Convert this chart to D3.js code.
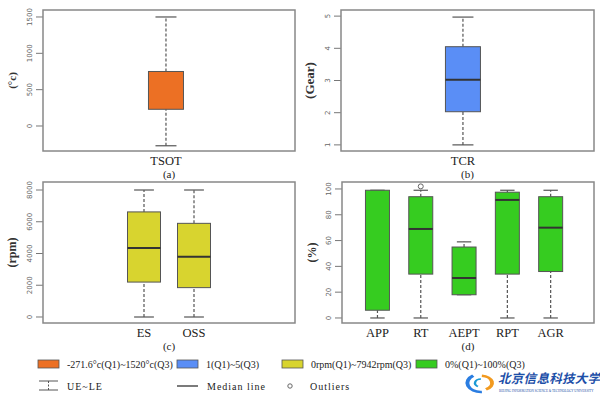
<!DOCTYPE html>
<html>
<head>
<meta charset="utf-8">
<script src="https://cdn.jsdelivr.net/npm/d3@7"></script>
<style>
  body { margin: 0; background: #fff; }
  svg { display: block; }
</style>
</head>
<body>
<svg id="vis" width="600" height="397"></svg>
<script>
// box stats: [lower whisker, Q1, median, Q3, upper whisker]
// median null where no median line shows in the figure
var catsA = ["TSOT"];
var statsA = [[-272, 230, null, 750, 1500]];
var ticksA = [0, 500, 1000, 1500];

var catsB = ["TCR"];
var statsB = [[1, 2.03, 3.02, 4.05, 4.97]];
var ticksB = [1, 2, 3, 4, 5];

var catsC = ["ES", "OSS"];
var statsC = [[0, 2200, 4350, 6620, 8000], [0, 1850, 3800, 5900, 8000]];
var ticksC = [0, 2000, 4000, 6000, 8000];

var catsD = ["APP", "RT", "AEPT", "RPT", "AGR"];
var statsD = [[0, 6, null, 99, 99], [0, 34, 69, 94, 99], [18, 18, 31, 55, 59],
              [0, 34, 91.5, 97.5, 99], [0, 36, 70, 94, 99]];
var outliersD = [[], [102], [], [], []];
var ticksD = [0, 20, 40, 60, 80, 100];

var legendLabels = ["-271.6°c(Q1)~1520°c(Q3)", "1(Q1)~5(Q3)", "0rpm(Q1)~7942rpm(Q3)", "0%(Q1)~100%(Q3)"];
var legendColors = ["#ec7024", "#5a8ef6", "#d8d42f", "#36cc20"];

var svg = d3.select("#vis");
var serif = "'Liberation Serif', 'DejaVu Serif', serif";

function panel(o) {
  var g = svg.append("g");
  var y = d3.scaleLinear().domain(o.ydom).range([o.y1, o.y0]);
  var x = d3.scalePoint().domain(o.cats).range([o.x0, o.x1]).padding(o.pad).align(o.align);

  // ticks, R style with rotated labels
  o.ticks.forEach(function(t) {
    g.append("line")
      .attr("x1", o.x0 - 7).attr("x2", o.x0)
      .attr("y1", y(t)).attr("y2", y(t))
      .attr("stroke", "#777").attr("stroke-width", 1);
    g.append("text")
      .attr("transform", "translate(" + (o.x0 - 11) + "," + y(t) + ") rotate(-90)")
      .attr("text-anchor", "middle")
      .attr("font-family", "'DejaVu Sans', sans-serif")
      .attr("font-size", 7)
      .attr("fill", "#666")
      .text(t);
  });

  o.cats.forEach(function(c, i) {
    var s = o.stats[i], cx = x(c), w = o.bw;
    // whiskers
    [[s[0], s[1]], [s[3], s[4]]].forEach(function(p) {
      if (p[0] == p[1]) return;
      g.append("line")
        .attr("x1", cx).attr("x2", cx)
        .attr("y1", y(p[0])).attr("y2", y(p[1]))
        .attr("stroke", "#555").attr("stroke-width", 1.2)
        .attr("stroke-dasharray", "3,2");
    });
    [s[0], s[4]].forEach(function(v) {
      g.append("line")
        .attr("x1", cx - w * 0.3).attr("x2", cx + w * 0.3)
        .attr("y1", y(v)).attr("y2", y(v))
        .attr("stroke", "#555").attr("stroke-width", 1.2);
    });
    g.append("rect")
      .attr("x", cx - w / 2).attr("width", w)
      .attr("y", y(s[3])).attr("height", y(s[1]) - y(s[3]))
      .attr("fill", o.color)
      .attr("stroke", "#555").attr("stroke-width", 1);
    if (s[2] != null) {
      g.append("line")
        .attr("x1", cx - w / 2).attr("x2", cx + w / 2)
        .attr("y1", y(s[2])).attr("y2", y(s[2]))
        .attr("stroke", "#333").attr("stroke-width", 2);
    }
    (o.out ? o.out[i] : []).forEach(function(v) {
      g.append("circle")
        .attr("cx", cx).attr("cy", y(v)).attr("r", 2.5)
        .attr("fill", "none").attr("stroke", "#666").attr("stroke-width", 1);
    });
    g.append("text")
      .attr("x", cx).attr("y", o.y1 + 14)
      .attr("text-anchor", "middle")
      .attr("font-family", serif).attr("font-size", 12.5)
      .attr("fill", "#222")
      .text(c);
  });

  g.append("rect")
    .attr("x", o.x0).attr("y", o.y0)
    .attr("width", o.x1 - o.x0).attr("height", o.y1 - o.y0)
    .attr("fill", "none").attr("stroke", "#888").attr("stroke-width", 1.5);

  g.append("text")
    .attr("x", (o.x0 + o.x1) / 2).attr("y", o.y1 + 27)
    .attr("text-anchor", "middle")
    .attr("font-family", serif).attr("font-size", 11)
    .attr("fill", "#222")
    .text(o.sub);

  g.append("text")
    .attr("transform", "translate(" + o.lx + "," + ((o.y0 + o.y1) / 2) + ") rotate(-90)")
    .attr("text-anchor", "middle")
    .attr("dy", "0.35em")
    .attr("font-family", serif).attr("font-size", o.lsize).attr("font-weight", "bold")
    .attr("fill", "#333")
    .text(o.label);
}

panel({cats: catsA, stats: statsA, ticks: ticksA, ydom: [-344, 1596],
  x0: 43, x1: 295, y0: 10, y1: 151, pad: 1, align: 0.488, bw: 35,
  color: legendColors[0], sub: "(a)", label: "(°c)", lx: 12, lsize: 11});
panel({cats: catsB, stats: statsB, ticks: ticksB, ydom: [0.81, 5.19],
  x0: 341, x1: 594, y0: 10, y1: 151, pad: 1, align: 0.482, bw: 35,
  color: legendColors[1], sub: "(b)", label: "(Gear)", lx: 309, lsize: 13});
panel({cats: catsC, stats: statsC, ticks: ticksC, ydom: [-378, 8504],
  x0: 43, x1: 295, y0: 182, y1: 323, pad: 2.02, align: 0.5, bw: 33,
  color: legendColors[2], sub: "(c)", label: "(rpm)", lx: 12, lsize: 12});
panel({cats: catsD, stats: statsD, out: outliersD, ticks: ticksD, ydom: [-3.9, 105.4],
  x0: 342, x1: 594, y0: 182, y1: 323, pad: 0.91, align: 0.45, bw: 24,
  color: legendColors[3], sub: "(d)", label: "(%)", lx: 312, lsize: 12});

// legend
var legX = [38, 177, 282, 416];
var leg = svg.append("g");
legendLabels.forEach(function(t, i) {
  leg.append("rect")
    .attr("x", legX[i]).attr("y", 360).attr("width", 21).attr("height", 8)
    .attr("fill", legendColors[i]).attr("stroke", "#555").attr("stroke-width", 0.8);
  leg.append("text")
    .attr("x", legX[i] + 29).attr("y", 367.5)
    .attr("font-family", serif).attr("font-size", 10).attr("fill", "#222")
    .text(t);
});
// second row: whisker, median, outlier keys
leg.append("line").attr("x1", 48.5).attr("x2", 48.5).attr("y1", 381).attr("y2", 390)
  .attr("stroke", "#555").attr("stroke-dasharray", "2,1.5");
leg.append("line").attr("x1", 39).attr("x2", 58).attr("y1", 381).attr("y2", 381).attr("stroke", "#555");
leg.append("line").attr("x1", 39).attr("x2", 58).attr("y1", 390).attr("y2", 390).attr("stroke", "#555");
leg.append("text").attr("x", 67).attr("y", 389.5)
  .attr("font-family", serif).attr("font-size", 10).attr("fill", "#222").attr("letter-spacing", 1)
  .text("UE~LE");
leg.append("line").attr("x1", 177).attr("x2", 198).attr("y1", 386).attr("y2", 386)
  .attr("stroke", "#333").attr("stroke-width", 1.3);
leg.append("text").attr("x", 207).attr("y", 389.5)
  .attr("font-family", serif).attr("font-size", 10).attr("fill", "#222").attr("letter-spacing", 1)
  .text("Median line");
leg.append("circle").attr("cx", 290).attr("cy", 386).attr("r", 2.2)
  .attr("fill", "none").attr("stroke", "#666");
leg.append("text").attr("x", 310).attr("y", 389.5)
  .attr("font-family", serif).attr("font-size", 10).attr("fill", "#222").attr("letter-spacing", 1)
  .text("Outliers");

// university logo, bottom right
var logo = svg.append("g").attr("transform", "translate(481,383)");
var arc = d3.arc();
logo.append("path")
  .attr("d", arc({innerRadius: 9, outerRadius: 12, startAngle: 3.6, endAngle: 6.2}))
  .attr("fill", "#2a7de1").attr("transform", "scale(1.3,0.85) rotate(-30)");
logo.append("path")
  .attr("d", arc({innerRadius: 7, outerRadius: 10, startAngle: 0.6, endAngle: 3.2}))
  .attr("fill", "#f29a1f").attr("transform", "scale(1.3,0.85) rotate(-30)");
logo.append("path")
  .attr("d", arc({innerRadius: 4, outerRadius: 6, startAngle: 4.2, endAngle: 6.8}))
  .attr("fill", "#1a9ad6").attr("transform", "scale(1.2,0.8) rotate(-30)");
svg.append("text").attr("x", 498).attr("y", 383)
  .attr("font-family", "'Noto Sans CJK SC', sans-serif").attr("font-size", 12.5)
  .attr("font-style", "italic").attr("font-weight", "bold")
  .attr("fill", "#1d4fa8").attr("letter-spacing", 0.3)
  .text("北京信息科技大学");
svg.append("text").attr("x", 499).attr("y", 392)
  .attr("font-family", serif).attr("font-size", 3.2).attr("fill", "#1d4fa8")
  .text("BEIJING INFORMATION SCIENCE & TECHNOLOGY UNIVERSITY");
</script>
</body>
</html>
